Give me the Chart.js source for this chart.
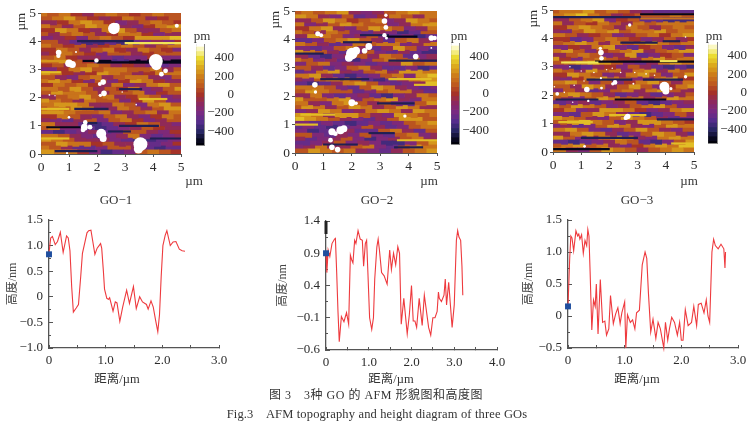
<!DOCTYPE html>
<html><head><meta charset="utf-8">
<script src="https://cdn.jsdelivr.net/npm/chart.js@4"></script>
<style>
html,body{margin:0;padding:0;background:#fff;width:750px;height:425px;overflow:hidden}
#stage{position:relative;width:750px;height:425px;filter:blur(.4px)}
canvas{position:absolute}
.t{position:absolute;white-space:pre;color:#333;font-family:"Liberation Serif","Noto Sans CJK SC",serif;transform:translate(-50%,-50%)}
</style></head><body><div id="stage"></div>
<script>
// ---------- heights along the profile lines (µm, nm) ----------
const line1X=[0,.03,.06,.11,.15,.2,.25,.31,.34,.37,.4,.43,.48,.52,.56,.59,.63,.67,.7,.74,.77,.81,.85,.91,.93,.96,.98,1.02,1.05,1.07,1.1,1.13,1.17,1.2,1.25,1.3,1.37,1.42,1.49,1.54,1.6,1.65,1.72,1.75,1.8,1.84,1.88,1.92,1.95,1.98,2.01,2.05,2.08,2.14,2.19,2.24,2.3,2.35,2.4];
const line1Y=[.85,1.15,1.18,1.02,1.08,1.26,.87,1.19,1.15,.9,.2,-.3,-.22,-.15,.4,.85,1.05,1.25,1.29,1.3,1.1,.83,.95,1.04,.95,.5,.15,-.03,-.05,-.02,-.15,-.28,-.1,-.12,-.48,-.2,.13,-.13,.2,-.23,0,-.1,-.15,-.24,-.08,-.2,-.45,-.68,-.35,.4,1,1.2,1.29,1,1.07,1.08,.93,.9,.89];
const line2X=[0,.02,.05,.09,.14,.2,.22,.25,.28,.31,.36,.42,.48,.53,.57,.6,.63,.67,.7,.75,.8,.85,.88,.92,.95,.98,1.02,1.07,1.11,1.14,1.19,1.22,1.25,1.3,1.36,1.43,1.49,1.53,1.58,1.63,1.68,1.72,1.76,1.82,1.9,1.95,2,2.04,2.08,2.12,2.18,2.25,2.3,2.4,2.45,2.5,2.55,2.6,2.63,2.65,2.7,2.76,2.79,2.82,2.87,2.95,3,3.05,3.08,3.11,3.15,3.18,3.2];
const line2Y=[.9,.6,.95,.85,1.05,1.12,1.13,.6,0,-.47,-.08,-.16,-.02,-.2,.87,.8,.75,1.1,1.05,1.25,1.12,1.1,.7,1.05,1.1,.6,-.1,-.28,-.1,.5,1,1.12,.95,.6,.55,.42,.95,.65,.9,.72,1,.9,-.2,.2,-.35,-.05,.4,-.15,-.15,-.25,.2,-.22,.25,-.25,-.37,-.1,-.1,0,.3,.2,.15,.25,.5,.1,.45,-.25,.1,1.1,1.25,1.15,1.1,.7,.25];
const line3X=[0,.03,.05,.07,.1,.14,.17,.19,.21,.24,.27,.3,.33,.35,.37,.39,.42,.45,.48,.5,.53,.57,.61,.65,.68,.72,.75,.8,.84,.88,.92,.95,1,1.02,1.05,1.1,1.14,1.18,1.21,1.26,1.31,1.36,1.39,1.42,1.46,1.5,1.55,1.59,1.63,1.69,1.72,1.76,1.79,1.83,1.88,1.93,1.97,2,2.03,2.07,2.12,2.18,2.22,2.27,2.3,2.35,2.4,2.44,2.47,2.5,2.54,2.57,2.6,2.65,2.7,2.75,2.77,2.78];
const line3Y=[.15,.9,1.25,1.22,1.02,1.33,1.25,1.28,1.2,1.27,.98,1.18,1.1,1.35,1.25,.7,-.22,.25,.15,.5,-.28,.57,-.1,-.08,-.3,-.2,.32,-.12,.03,.13,-.12,.05,.22,-.5,.02,-.1,-.06,-.2,.05,.09,.8,1,.9,.35,-.25,-.05,-.35,-.1,-.2,-.5,-.1,-.38,-.2,-.02,-.1,-.3,-.1,-.38,-.38,.1,-.15,-.1,.15,-.15,.18,.2,.05,.25,0,-.1,1,1.2,1.1,1.05,1.12,1.05,.75,1];
// cursor readings shown on each profile
const cursor1=[0,.83], cursor2=[0,.9], cursor3=[0,.15];
const cursor2Bar=[1.4,1.2];
// ---------- tick labels ----------
const mapTicks=['0','1','2','3','4','5'];
const barTicks=['−400','−200','0','200','400'];
const y1Ticks=['−1.0','−0.5','0','0.5','1.0','1.5'];
const y2Ticks=['−0.6','−0.1','0.4','0.9','1.4'];
const y3Ticks=['−0.5','0','0.5','1.0','1.5'];
const x13Ticks=['0','','1.0','','2.0','','3.0'];
const x2Ticks=['0','','1.0','','2.0','','3.0','','4.0'];
// ---------- colour bar levels, pm ----------
const barLevels=[-550,-500,-450,-400,-350,-300,-250,-200,-150,-100,-50,0,50,100,150,200,250,300,350,400,450,500,550];
// ---------- topography cells, top row first, in units of 85 pm ----------
const map1=[
[2,1,2,0,-1,1,2,1,0,1,2,1],[1,2,3,1,0,-1,0,2,1,-1,0,1],[-1,0,2,3,2,0,-2,-1,1,2,1,0],[2,1,-1,1,3,2,1,-1,-2,0,2,3],
[0,3,2,0,-1,2,3,1,-1,-1,1,2],[1,-1,1,2,1,-1,0,2,2,0,-2,-1],[-2,-1,0,-2,1,2,1,0,3,3,3,4],[1,-1,-3,-4,-4,-3,-4,-3,-2,-1,-2,0],
[2,1,0,1,-1,0,1,2,1,-1,1,2],[0,2,1,-1,1,2,0,-1,2,1,0,-2],[-1,0,2,1,0,-2,1,1,-1,0,1,1],[1,2,0,-1,-1,-2,-3,-2,-2,0,-2,-2],
[2,2,3,1,0,-3,-4,-4,-6,-6,-6,-6],[0,1,-1,1,2,1,-1,0,-1,-2,-3,-2],[-2,0,2,3,1,2,2,1,1,2,-1,1],[3,2,0,-1,0,3,2,1,-1,0,2,2],
[1,-1,-2,1,2,-1,1,2,2,-1,-2,1],[2,3,2,0,-2,1,-2,0,3,2,0,-1],[0,2,1,2,0,-1,2,-2,-1,2,3,1],[2,1,3,1,-1,1,0,2,-2,-1,1,3],
[1,3,2,2,1,-1,1,1,2,-2,0,1],[-1,1,2,3,1,2,-1,0,2,1,-2,-1],[3,2,1,-1,2,1,1,-2,0,3,1,-2],[2,3,3,2,-1,-1,2,1,-2,2,3,1],
[1,2,1,3,2,-2,-1,2,1,-1,1,3],[3,3,2,1,1,2,-2,-1,1,2,-1,2],[0,2,1,-1,-2,1,2,-1,-2,0,2,1],[-1,-2,-3,-1,1,-2,1,2,0,-2,-1,1],
[2,-1,-1,-3,-4,-3,-1,0,2,1,-1,-2],[1,2,-2,-2,-3,-4,-3,-2,-1,1,0,-1],[-3,-4,-3,-2,-1,-3,-2,1,1,-1,-2,0],[2,1,-1,-2,-3,-2,-1,2,-2,-3,-2,-1],
[3,2,1,-1,-1,-1,-2,-3,-4,-4,-3,-2],[1,3,2,2,0,1,-1,-1,-2,-3,-2,0],[2,1,-1,-3,-3,-2,1,1,-1,-3,-4,-3],[3,2,2,0,-2,-4,-3,-2,1,2,1,0]];
const map2=[
[1,2,1,2,3,-1,-2,-1,1,2,3,2],[3,2,-1,-2,1,-3,-2,0,2,1,-1,2],[-1,1,3,2,0,1,2,-2,-1,3,2,1],[2,-2,-1,1,3,2,1,1,-2,-1,2,3],
[0,2,3,-1,-2,1,3,2,1,-2,-1,2],[2,1,-1,2,1,-2,-3,-1,-2,-4,-3,1],[-1,3,2,1,-2,-1,1,-2,-3,-2,-4,-3],[-3,-2,1,2,3,1,-1,-3,1,2,-1,-2],
[2,1,-1,-3,-2,2,1,2,2,-2,-1,2],[-2,-3,-2,1,2,-1,-3,-1,3,1,-2,-3],[3,2,1,-1,-3,-2,1,-2,-3,-1,-3,-4],[-1,-3,-4,-2,-1,1,-1,2,1,-3,-2,-1],
[2,1,-2,-1,-3,-4,-2,1,2,1,2,-1],[-2,1,2,-2,-1,-2,-3,-2,-1,3,1,2],[1,-1,-3,-2,1,2,-1,-3,-3,-2,-4,-3],[-3,-2,2,3,-1,-2,1,2,-1,3,3,2],
[2,3,-1,-3,-4,-3,-2,1,2,-2,3,4],[-1,-2,1,2,2,1,-3,-4,-3,-1,2,3],[-3,-4,-3,-1,2,3,1,-2,-3,-2,-1,4],[2,2,1,-2,-3,1,3,2,-1,-2,-3,-2],
[1,3,2,1,1,-3,-2,1,2,2,-1,-3],[-1,2,-2,-3,-2,-1,-3,-4,-2,-1,2,1],[3,1,1,2,3,-2,1,2,3,-1,-2,2],[2,-1,-2,2,3,1,-1,1,-2,-3,1,3],
[1,3,2,-1,1,3,2,-1,1,3,2,-1],[-2,-1,3,2,-2,-1,2,3,2,-1,3,2],[3,2,-1,3,3,1,-1,-2,3,2,1,2],[4,3,2,1,-1,-2,-3,-1,1,3,3,1],
[-2,-3,-2,-3,-4,-3,-2,-3,-2,1,2,3],[-3,-2,-3,-4,-3,-2,1,-1,-3,-2,1,2],[-2,-4,-3,-2,-1,-3,-3,1,2,-1,-3,1],[1,-2,-3,-1,-2,1,-2,-3,1,2,-2,-1],
[-1,-3,-2,-1,1,-2,-4,-2,-1,1,2,-1],[-3,-2,-1,1,-2,-1,-2,-4,-4,-2,1,3],[-2,-1,2,-1,-1,1,2,-2,-3,1,3,2],[1,3,2,1,2,-1,-2,-3,-1,1,2,3]];
const map3=[
[1,2,2,3,1,2,1,-1,-2,-3,-3,-3],[2,3,4,2,1,-1,0,1,1,1,2,1],[-1,1,2,3,-2,0,1,-3,-3,-4,-4,-4],[2,-1,1,0,2,1,-1,2,1,2,2,2],
[0,2,3,2,1,-1,2,1,-1,1,2,1],[-1,-2,1,3,2,3,1,2,2,3,1,2],[2,1,-1,0,1,-2,-1,1,2,0,2,3],[0,-3,-2,1,2,1,0,-2,-1,1,-1,0],
[1,2,3,2,-1,2,1,2,3,2,1,2],[-2,0,-1,2,3,-2,-3,0,1,-2,-3,-1],[2,3,1,-2,0,1,2,3,-1,1,2,3],[-1,1,2,1,-2,-1,3,-3,-2,0,1,-2],
[3,0,-2,1,2,1,0,-1,2,3,1,2],[1,2,3,4,3,1,-2,-3,-1,2,3,2],[-2,-4,-3,-1,0,-2,1,-1,-3,-4,-3,-4],[2,1,-1,3,1,2,-1,2,3,-1,2,1],
[0,3,2,1,-2,-1,2,3,1,-2,1,3],[-1,-2,0,2,3,2,1,-2,-1,2,3,0],[2,3,1,-2,1,-2,0,2,3,1,-1,2],[1,-1,3,2,-1,1,3,1,-2,0,2,3],
[-2,1,-1,-3,-2,1,2,-1,2,3,1,-1],[2,3,2,1,-1,-3,-2,-1,-3,-2,-1,1],[1,-1,-2,1,3,2,1,2,-1,1,3,2],[-3,-2,-1,-3,-2,-1,1,-3,-4,-3,-2,-1],
[2,1,3,2,1,-2,-1,1,2,3,1,-2],[0,2,-2,-1,3,3,2,0,-2,-1,2,3],[-2,-3,1,3,2,-1,-3,-4,-3,-2,1,-1],[3,2,1,-1,-2,1,3,2,1,-1,-3,-2],
[1,3,4,2,1,-2,-1,3,3,2,1,0],[-2,-1,-3,-2,1,3,2,-1,-2,1,3,2],[2,3,1,-2,-3,-1,1,3,1,-1,-2,1],[-1,2,3,2,-1,-3,-2,1,3,2,-1,-3],
[3,1,-2,-1,2,3,2,-1,-2,2,3,2],[-3,-4,-3,-2,-1,2,1,-3,-4,-2,1,3],[1,2,3,1,2,-1,-2,0,2,3,2,4],[2,-1,-2,1,3,2,1,-1,1,2,3,2]];
// ---------- fine scan streaks: from x µm, to x µm, y µm, level ----------
const streaks1=[[2,5,3.25,-6],[1.3,3.3,4,-5],[3,5,3.93,5],[0,1.1,3.3,3],[1.5,2.5,3.3,-6],[.2,1.4,.95,-6],[1.5,2,1.1,-5],[2.8,4.2,1,-5],[2.4,3.2,.8,-5],[3.9,5,.55,-5],[.5,2,.1,-5],[0,1,.55,4],[0,.7,2.9,4],[0,1,1.6,4],[3.5,4.5,1.95,4],[1.2,2.4,1.6,-5],[2.8,3.6,2.3,-5]];
const streaks2=[[2.3,3.3,4.15,-5],[3.2,4.3,4.1,-6],[1.7,2.7,3.9,-5],[0,1,3.5,-5],[3.3,5,3.25,-5],[4.2,5,2.4,4],[.9,1.7,2.6,-5],[2.9,4.2,1.75,-5],[0,.8,1,4],[1,2.2,.3,-5],[3.5,4.5,.2,-5],[1.6,2.6,2.6,-5],[3.3,4.8,2.6,4],[.2,1.4,1.35,4],[2.6,3.5,.7,-5],[3.6,5,.45,4]];
const streaks3=[[3.1,5,4.85,-6],[3.1,5,4.7,2],[0,3.1,4.75,-5],[2.4,3.7,3.85,-5],[1.5,5,3.18,-6],[.3,1.6,3.15,5],[3.8,4.4,3.2,5],[1.2,2.8,2.55,-5],[3.2,4.6,2.55,-5],[.1,1.6,1.85,-5],[2.2,4,1.85,-6],[3.7,5,1.15,-5],[0,2,.1,-6],[1,3,.5,-5],[4.2,5,.3,4],[3.9,4.5,3.9,-5],[.2,1.4,1.05,4],[2,3.3,1.3,4]];
// ---------- flakes on the surface: x µm, y µm, radius ----------
const flakes1=[[2.6,4.45,5.8],[2.68,4.52,3.5],[4.85,4.55,2],[.63,3.6,2.8],[.62,3.48,2.2],[1,3.22,3.8],[1.12,3.17,3.5],[1.98,3.32,2.2],[4.1,3.3,7],[4.12,3.15,5],[4.3,2.83,2.4],[4.45,2.95,2.4],[2.22,2.55,2.8],[2.1,2.48,2],[2.25,2.15,2.8],[2.12,2.08,1.7],[1,1.3,1.3],[1.55,.95,3.4],[1.58,1.12,2.3],[1.75,.95,2.4],[1.5,.85,2.3],[2.15,.72,5],[2.22,.55,3.5],[3.55,.35,7],[3.48,.18,4.6],[1.25,3.62,1],[.3,2.1,.9],[.5,2.07,.7],[2.9,2.2,.8],[3.4,1.75,.8],[.93,.03,1.1]];
const flakes2=[[.8,4.2,2.5],[.92,4.15,2],[3.15,4.65,2.8],[3.2,4.42,2.4],[3.2,4.85,1.7],[3.15,4.15,2.2],[3.22,4.05,1.5],[4.8,4.05,2.8],[4.92,4.05,2.2],[2.6,3.75,3.4],[2.45,3.6,2.8],[2,3.5,5.8],[1.9,3.35,4],[2.15,3.6,4],[4.25,3.4,2.8],[.7,2.4,2.8],[.72,2.15,1.7],[2,1.77,3.4],[2.15,1.75,1.8],[3.87,1.3,1.7],[1.3,.75,3.5],[1.6,.8,4],[1.72,.85,3.5],[1.25,.45,2.4],[1.3,.2,2.8],[1.5,.12,2.8],[1.42,.68,2.4],[4.8,3.7,.9]];
const flakes3=[[2.72,4.47,1.7],[1.7,3.5,2.8],[1.72,3.3,2.3],[1.68,3.65,1.7],[4.7,2.65,1.7],[3.95,2.3,5],[4,2.15,3.5],[4.18,2.23,1.6],[2.2,2.45,2.3],[2.12,2.4,1.7],[1.2,2.2,2.8],[1.72,2.25,1.4],[.15,2.05,1.9],[1.25,1.8,1.2],[2.65,1.25,2.8],[2.58,1.2,2.2],[1.12,.2,1.4],[.6,3,.8],[1,2.85,.7],[1.45,2.8,.8],[1.7,2.6,1.1],[1.1,2.5,.7],[1.9,2.9,.7],[2.1,2.95,.7],[2.4,2.8,.8],[2.9,2.8,.8],[3.3,2.75,.8],[3.6,2.7,.8],[.75,2.35,.8],[.4,2.1,.8],[.7,1.75,.7],[2.85,2.4,1],[4.7,4.05,.8],[.05,2.3,.8]];

const UNIT=85;
const SERIF='"Liberation Serif","Noto Sans CJK SC",serif';
const AXIS='#555', INK='#2c2c2c', RED='#ee3a3e', BLUE='#1f4e9e';
const STOPS=[[-550,[0,0,10]],[-500,[8,8,30]],[-400,[40,38,100]],[-300,[85,45,140]],[-200,[120,42,130]],[-100,[140,40,95]],[0,[165,50,40]],[100,[190,90,30]],[200,[205,125,25]],[300,[220,170,30]],[400,[235,220,50]],[480,[250,245,170]],[550,[255,255,255]]];
function colour(v){
  for(let i=1;i<STOPS.length;i++) if(v<=STOPS[i][0]){
    const [a,ca]=STOPS[i-1],[b,cb]=STOPS[i],k=(v-a)/(b-a);
    return `rgb(${ca.map((c,j)=>Math.round(c+(cb[j]-c)*k)).join(',')})`;
  }
  return 'rgb(255,255,255)';
}
const stage=document.getElementById('stage');
function canvas(p,m){
  const c=document.createElement('canvas');
  c.width=p.r-p.l+m.l+m.r; c.height=p.b-p.t+m.t+m.b;
  c.style.left=(p.l-m.l)+'px'; c.style.top=(p.t-m.t)+'px';
  c.style.width=c.width+'px'; c.style.height=c.height+'px';
  stage.appendChild(c); return c;
}
const base=m=>({responsive:false,animation:false,events:[],layout:{padding:{top:m.t,right:m.r,left:0,bottom:0}},plugins:{legend:{display:false},tooltip:{enabled:false},title:{display:false}}});
const noEdge=s=>{s.paddingTop=s.paddingBottom=s.paddingLeft=s.paddingRight=0};
const fixW=w=>s=>{s.width=w;noEdge(s)}, fixH=h=>s=>{s.height=h;noEdge(s)};
const noGrid={drawOnChartArea:false,drawTicks:false};

function heatmap(grid,streaks,flakes,p){
  const m={l:30,r:6,t:6,b:24};
  const cols=grid[0].length, rows=grid.length, w=5/cols;
  const rowPx=(p.b-p.t)/rows+.4;
  // each scan row starts a little further along, so cells lean like the scan lines
  const edge=(c,r)=>c===0?0:c===cols?5:(c-1+((r*5)%12)/12+.0)*w+w*.5;
  const datasets=[
    {type:'bubble',data:flakes.map(f=>({x:f[0],y:f[1],r:f[2]})),backgroundColor:'#fff',borderWidth:0,order:0},
    {type:'bar',indexAxis:'y',grouped:false,order:1,barThickness:1.5,borderWidth:0,
      data:streaks.map(s=>({x:[s[0],s[1]],y:s[2]})),backgroundColor:streaks.map(s=>colour(s[3]*UNIT))}];
  for(let c=0;c<cols;c++){
    datasets.push({type:'bar',indexAxis:'y',grouped:false,order:2,barThickness:rowPx,borderWidth:0,
      data:grid.map((_,r)=>({x:[edge(c,r),edge(c+1,r)],y:5-(r+.5)*5/rows})),
      backgroundColor:grid.map(row=>colour(row[c]*UNIT))});
  }
  new Chart(canvas(p,m),{type:'bar',data:{datasets},options:Object.assign(base(m),{scales:{
    x:{type:'linear',offset:false,min:0,max:5,position:'bottom',afterFit:fixH(m.b),
      border:{color:AXIS,width:1},grid:{offset:false,drawOnChartArea:false,tickLength:3,color:AXIS},
      ticks:{stepSize:1,maxRotation:0,padding:2,color:INK,font:{family:SERIF,size:13.5},callback:(v,i)=>mapTicks[i]}},
    y:{type:'linear',offset:false,min:0,max:5,position:'left',afterFit:fixW(m.l),
      border:{color:AXIS,width:1},grid:{offset:false,drawOnChartArea:false,tickLength:3,color:AXIS},
      ticks:{stepSize:1,padding:2,color:INK,font:{family:SERIF,size:13.5},callback:(v,i)=>mapTicks[i]},
      title:{display:true,text:'µm',align:'end',color:INK,padding:{top:3,bottom:0},font:{family:SERIF,size:13}}}
  }})});
}
function colourBar(p){
  const m={l:0,r:30,t:8,b:8};
  new Chart(canvas(p,m),{type:'bar',data:{datasets:[{indexAxis:'y',barPercentage:1,categoryPercentage:1,borderWidth:0,
      data:barLevels.map(v=>({x:[0,1],y:v})),backgroundColor:barLevels.map(colour)}]},
    options:Object.assign(base(m),{scales:{
      x:{type:'linear',offset:false,min:0,max:1,position:'bottom',afterFit:fixH(m.b),border:{color:'#888',width:1},grid:noGrid,ticks:{display:false}},
      xTop:{type:'linear',axis:'x',min:0,max:1,position:'top',afterFit:fixH(m.t),border:{color:'#888',width:1},grid:noGrid,ticks:{display:false}},
      yLeft:{type:'linear',axis:'y',min:-550,max:550,position:'left',afterFit:fixW(0),border:{color:'#888',width:1},grid:noGrid,ticks:{display:false}},
      y:{type:'linear',offset:false,min:-550,max:550,position:'right',afterFit:fixW(m.r),border:{color:'#888',width:1},grid:{offset:false,drawOnChartArea:false,drawTicks:false},
        ticks:{stepSize:200,autoSkip:false,includeBounds:false,crossAlign:'far',padding:-2,color:INK,font:{family:SERIF,size:13},
          callback:(v,i)=>barTicks[i]}}
    },layout:{padding:0}})});
}
function profile(xs,ys,cur,p,xMax,yMin,yMax,xLabels,yLabels,left,bar){
  const m={l:left,r:14,t:8,b:24};
  const datasets=[
    {type:'line',data:xs.map((x,i)=>({x,y:ys[i]})),borderColor:RED,borderWidth:1.1,pointRadius:0,tension:0,order:2,clip:false},
    {type:'scatter',data:[{x:cur[0],y:cur[1]}],pointStyle:'rect',pointRadius:4.2,backgroundColor:BLUE,borderWidth:0,order:1,clip:false}];
  if(bar) datasets.push({type:'line',data:bar.map(y=>({x:0,y})),borderColor:'#222',borderWidth:3,pointRadius:0,order:0,clip:false});
  new Chart(canvas(p,m),{type:'scatter',data:{datasets},options:Object.assign(base(m),{scales:{
    x:{type:'linear',min:0,max:xMax,position:'bottom',afterFit:fixH(m.b),border:{color:AXIS,width:1.3},
      grid:{drawOnChartArea:false,tickLength:-3,color:AXIS},
      ticks:{stepSize:.5,autoSkip:false,maxRotation:0,padding:8,color:INK,font:{family:SERIF,size:13},callback:(v,i)=>xLabels[i]}},
    y:{type:'linear',min:yMin,max:yMax,position:'left',afterFit:fixW(m.l),border:{color:AXIS,width:1.3},
      grid:{drawOnChartArea:false,tickLength:-4,color:AXIS},
      ticks:{stepSize:.5,autoSkip:false,padding:10,color:INK,font:{family:SERIF,size:13},callback:(v,i)=>yLabels[i]},
      title:{display:true,text:'高度/nm',color:'#444',padding:0,font:{family:SERIF,size:12}}},
    yMinor:{type:'linear',axis:'y',min:yMin,max:yMax,position:'left',weight:-1,afterFit:fixW(0),border:{display:false},
      grid:{drawOnChartArea:false,tickLength:-2,color:AXIS},ticks:{stepSize:.25,autoSkip:false,display:false}}
  }})});
}
heatmap(map1,streaks1,flakes1,{l:41,r:182,t:12,b:154});
heatmap(map2,streaks2,flakes2,{l:295,r:437,t:11,b:153});
heatmap(map3,streaks3,flakes3,{l:553,r:694,t:10,b:152});
colourBar({l:196,r:204,t:44,b:145});
colourBar({l:451,r:459,t:43,b:144});
colourBar({l:708,r:717,t:42,b:143});
profile(line1X,line1Y,cursor1,{l:49,r:219,t:220,b:348},3,-1,1.5,x13Ticks,y1Ticks,43);
profile(line2X,line2Y,cursor2,{l:326,r:497,t:221,b:350},4,-.6,1.4,x2Ticks,y2Ticks,50,cursor2Bar);
profile(line3X,line3Y,cursor3,{l:568,r:738,t:220,b:348},3,-.5,1.5,x13Ticks,y3Ticks,46);
// ---------- free-standing text: string, centre x, centre y, size, spacing ----------
const notes=[['pm',202,36,13,0],['pm',459,36,13,0],['pm',714,36,13,0],
 ['µm',194,181,13,0],['µm',429,181,13,0],['µm',689,181,13,0],
 ['GO−1',116,200,13,0],['GO−2',377,200,13,0],['GO−3',637,200,13,0],
 ['距离/µm',117,377,12.5,0],['距离/µm',391,377,12.5,0],['距离/µm',637,377,12.5,0],
 ['图 3　3种 GO 的 AFM 形貌图和高度图',376,394,12,.5],
 ['Fig.3    AFM topography and height diagram of three GOs',377,414,12.5,.15]];
notes.forEach(([s,x,y,z,k])=>{const d=document.createElement('div');d.className='t';d.textContent=s;d.style.left=x+'px';d.style.top=y+'px';d.style.fontSize=z+'px';d.style.letterSpacing=k+'px';stage.appendChild(d);});
</script></body></html>
